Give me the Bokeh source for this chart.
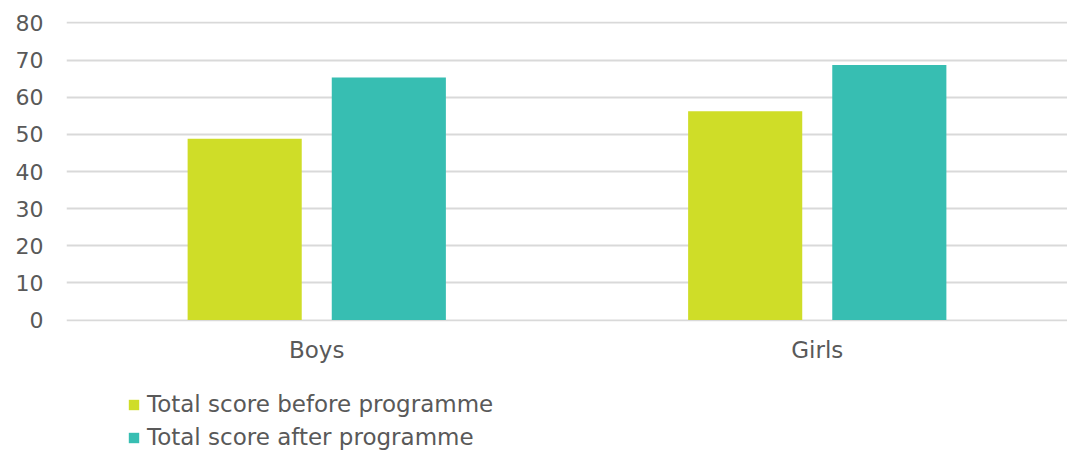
from bokeh.plotting import figure
from bokeh.layouts import column
from bokeh.models import ColumnDataSource, FactorRange, Range1d, FixedTicker, Legend, LegendItem
from bokeh.transform import dodge
from bokeh.embed import file_html
from bokeh.resources import INLINE

categories = ["Boys", "Girls"]
before = [48.8, 56.2]
after = [65.3, 68.7]
series_names = ["Total score before programme", "Total score after programme"]
series_colors = ["#CFDD28", "#37BEB2"]
y_ticks = [0, 10, 20, 30, 40, 50, 60, 70, 80]

FONT = "DejaVu Sans"
TXT = "#595959"

src = ColumnDataSource(dict(cat=categories, before=before, after=after))

p = figure(width=1067, height=365, output_backend="svg", toolbar_location=None,
           x_range=FactorRange(factors=categories, range_padding=0),
           y_range=Range1d(-0.4, 80.4),
           min_border_left=66, min_border_right=0, min_border_top=21,
           min_border_bottom=39)
p.outline_line_color = None

p.vbar(x=dodge("cat", -0.144, range=p.x_range), top="before", width=0.228,
       bottom=0, source=src, fill_color=series_colors[0], line_color=None)
p.vbar(x=dodge("cat", 0.144, range=p.x_range), top="after", width=0.228,
       bottom=0, source=src, fill_color=series_colors[1], line_color=None)

p.yaxis.ticker = FixedTicker(ticks=y_ticks)
p.ygrid.ticker = FixedTicker(ticks=y_ticks)
p.xgrid.grid_line_color = None
p.ygrid.grid_line_color = "#d9d9d9"
p.ygrid.grid_line_width = 2

for ax in (p.xaxis, p.yaxis):
    ax.axis_line_color = None
    ax.major_tick_line_color = None
    ax.minor_tick_line_color = None
    ax.major_label_text_color = TXT
    ax.major_label_text_font = FONT
p.yaxis.major_label_text_font_size = "22px"
p.xaxis.major_label_text_font_size = "23px"
p.yaxis.major_label_standoff = 17
p.xaxis.major_label_standoff = 9

# legend panel below the chart
lg = figure(width=1067, height=85, output_backend="svg", toolbar_location=None,
            x_range=Range1d(0, 1), y_range=Range1d(0, 1),
            x_axis_location=None, y_axis_location=None,
            min_border=0, min_border_left=0, min_border_right=0,
            min_border_top=0, min_border_bottom=0)
lg.outline_line_color = None
lg.grid.grid_line_color = None
# placeholder renderers (kept outside the visible range) that carry the legend swatches
dummy = [lg.vbar(x=[5], top=[5], width=0.1, fill_color=c, line_color=None)
         for c in series_colors]

legend = Legend(items=[LegendItem(label=n, renderers=[r]) for n, r in zip(series_names, dummy)],
                orientation="vertical")
legend.label_text_font = FONT
legend.label_text_font_size = "23px"
legend.label_text_color = TXT
legend.glyph_width = 13
legend.glyph_height = 13
legend.label_standoff = 7
legend.label_height = 24
legend.spacing = 7
legend.padding = 0
legend.margin = 0
legend.border_line_color = None
legend.background_fill_alpha = 0
legend.location = (61, 0)
lg.add_layout(legend, "center")

layout = column(p, lg, spacing=0)
open("out.html", "w").write(file_html(layout, INLINE))
